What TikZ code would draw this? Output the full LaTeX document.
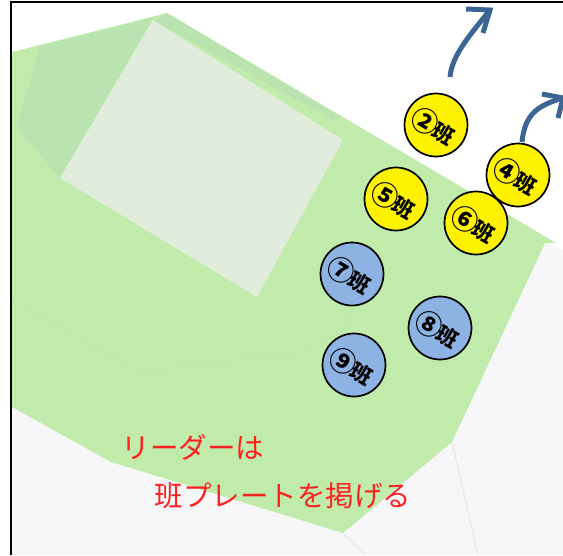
\documentclass[tikz,border=0pt]{standalone}
\usepackage{fontspec}
\newfontfamily\jpfont{Noto Sans CJK JP}
\definecolor{parkgreen}{HTML}{C1EBAB}
\definecolor{darkgreen}{HTML}{B9E4AF}
\definecolor{faintgreen}{HTML}{BCE6AC}
\definecolor{building}{HTML}{E2ECDD}
\definecolor{roadgray}{HTML}{F7F7F9}
\definecolor{roadline}{HTML}{E9E9ED}
\definecolor{teamblue}{HTML}{8CB3E3}
\definecolor{arrowblue}{HTML}{3A6595}
\definecolor{notered}{HTML}{FF2020}
\tikzset{
  team/.style={circle,draw=black,line width=1.7pt,minimum size=63pt,inner sep=0pt,font=\jpfont},
  yellowteam/.style={team,fill=yellow},
  blueteam/.style={team,fill=teamblue},
  movearrow/.style={draw=arrowblue,line width=5pt},
  note/.style={text=notered,font=\jpfont\fontsize{28.5}{29}\selectfont,anchor=center,inner sep=0pt},
}
\newcommand{\teamlabel}[1]{\makebox[0pt][c]{\kern-4pt\smash{\raisebox{-11pt}{\rotatebox[origin=c]{-30}{{\fontsize{27}{27}\selectfont\textbf{#1}}\kern-1.5pt{\fontsize{21}{21}\selectfont\textbf{班}}}}}}}
\begin{document}
\begin{tikzpicture}[x=1pt,y=-1pt]
\useasboundingbox (0,0) rectangle (563,555);
\fill[white] (0,0) rectangle (563,555);
% road surface
\fill[roadgray] (12,407) -- (111,462) -- (343,533) -- (452,442) -- (545,243) -- (563,250) -- (563,555) -- (12,555) -- cycle;
\draw[roadline,line width=1.2pt] (452,442) -- (478,555);
\draw[roadline,line width=1.2pt] (343,533) -- (365,555);
% park
\fill[parkgreen] (12,52) -- (167,13) -- (556,243) -- (545,243) -- (452,442) -- (343,533) -- (111,462) -- (12,407) -- cycle;
\fill[darkgreen] (40,46) -- (153,18) -- (60,178) -- (17,127) -- cycle;
\fill[darkgreen] (153,20) -- (167,13) -- (340,117) -- (335,121) -- cycle;
\draw[faintgreen,line width=0.8pt] (12,300) -- (140,372) -- (300,352) -- (345,330) -- (357,300);
% building
\fill[building] (153,20) -- (343,140) -- (257,297) -- (60,178) -- cycle;
% arrows
\coordinate (a1s) at (450,77);
\coordinate (a1e) at (490,10);
\coordinate (a1l) at (466,9);
\coordinate (a1r) at (483,33);
\coordinate (a2s) at (522,142);
\coordinate (a2e) at (563,98);
\coordinate (a2l) at (542,94);
\coordinate (a2r) at (558,118);
\draw[movearrow] (a1s) .. controls (452,55) and (470,35) .. (a1e);
\draw[movearrow] (a1l) -- (a1e) -- (a1r);
\draw[movearrow] (a2s) .. controls (525,112) and (540,105) .. (a2e);
\draw[movearrow] (a2l) -- (a2e) -- (a2r);
% teams
\node[yellowteam] (t2) at (436,125) {\teamlabel{②}};
\node[yellowteam] (t4) at (518,175) {\teamlabel{④}};
\node[yellowteam] (t5) at (396,199) {\teamlabel{⑤}};
\node[yellowteam] (t6) at (476,223) {\teamlabel{⑥}};
\node[blueteam] (t7) at (352,274) {\teamlabel{⑦}};
\node[blueteam] (t8) at (440,328) {\teamlabel{⑧}};
\node[blueteam] (t9) at (354,365) {\teamlabel{⑨}};
% notes
\node[note] (n1) at (193,447) {リーダーは};
\node[note] (n2) at (283,496) {班プレートを掲げる};
% frame
\draw[black,line width=2pt] (11,555) -- (11,2) -- (563,2);
\end{tikzpicture}
\end{document}
